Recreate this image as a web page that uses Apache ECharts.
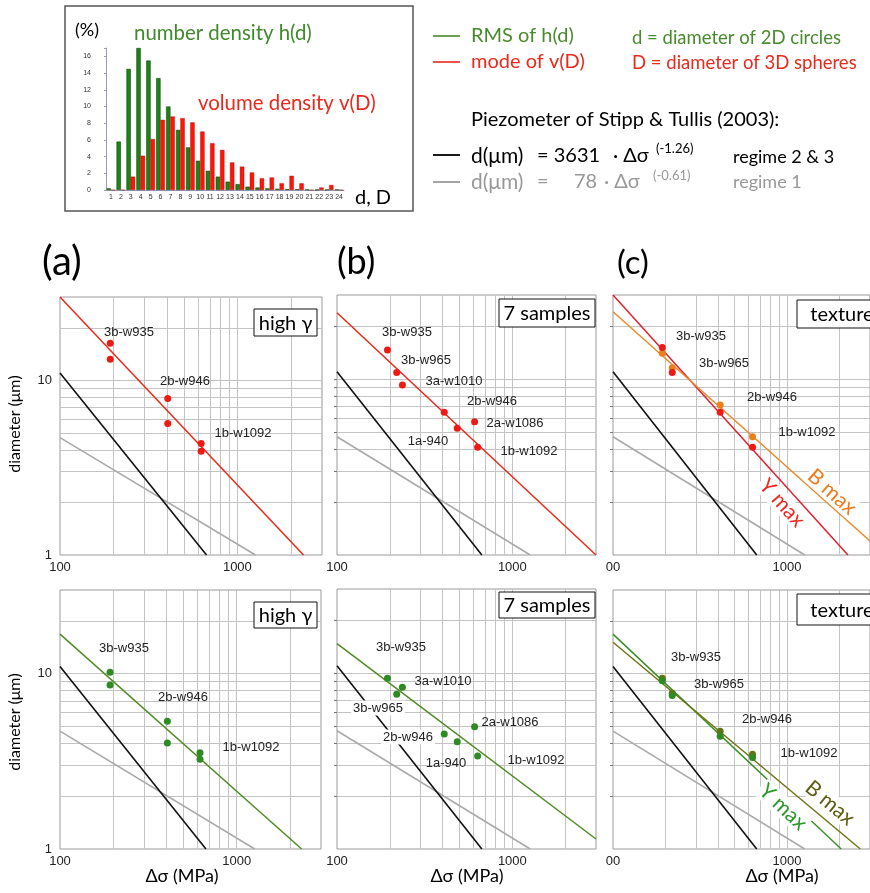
<!DOCTYPE html>
<html><head><meta charset="utf-8">
<script src="https://cdn.jsdelivr.net/npm/echarts@6/dist/echarts.min.js"></script>
<style>html,body{margin:0;padding:0;background:#fff}#c{width:870px;height:893px}</style>
</head><body><div id="c"></div>
<script>
// ---------- inset histogram ----------
const histCategories = ['1','2','3','4','5','6','7','8','9','10','11','12','13','14','15','16','17','18','19','20','21','22','23','24'];
const numberDensity = [0.2,5.8,14.5,17.0,15.5,13.4,10.0,7.2,5.1,3.5,2.3,1.6,1.0,0.7,0.4,0.3,0.2,0.15,0.1,0.1,0.05,0.03,0.03,0.05];
const volumeDensity = [0,0,1.6,4.1,6.1,8.4,8.8,8.6,8.1,7.0,5.6,4.8,3.3,2.8,2.1,1.4,1.5,0.8,1.7,0.8,0,0.3,0.6,0];
const histYTicks = [0,2,4,6,8,10,12,14,16];

// ---------- piezometer lines (Stipp & Tullis 2003) ----------
const stippRegime23 = [[100, 11.0], [670, 1]];
const stippRegime1 = [[100, 4.7], [1265, 1]];

// ---------- grid values ----------
const gridX = [200,300,400,500,600,700,800,900,1000,2000];
const gridY = [2,3,4,5,6,7,8,9,10,20];

// ---------- panel (a) ----------
const aTopFit = [[100, 30], [2360, 1]];
const aTopPoints = [[192,16.3],[192,13.2],[405,7.86],[405,5.66],[625,4.35],[625,3.93]];
const aBotFit = [[100, 16.8], [2330, 1]];
const aBotPoints = [[192,10.2],[192,8.63],[405,5.36],[405,4.02],[620,3.54],[620,3.25]];
// ---------- panel (b) ----------
const bTopFit = [[100, 23.8], [3000, 1]];
const bTopPoints = [[194,14.6],[219,10.9],[236,9.25],[409,6.47],[485,5.25],[609,5.72],[634,4.09]];
const bBotFit = [[100, 14.7], [3000, 1.14]];
const bBotPoints = [[194,9.33],[236,8.3],[219,7.57],[609,4.95],[409,4.5],[485,4.07],[634,3.38]];
// ---------- panel (c) ----------
const cTopYmaxFit = [[100, 30], [2240, 1]];
const cTopBmaxFit = [[100, 24.1], [3000, 1.2]];
const cTopYmaxPoints = [[192,15.1],[219,10.9],[413,6.47],[634,4.09]];
const cTopBmaxPoints = [[192,14.0],[219,11.6],[413,7.11],[634,4.7]];
const cBotYmaxFit = [[100, 16.8], [2050, 1]];
const cBotBmaxFit = [[100, 15.1], [2640, 1]];
const cBotYmaxPoints = [[192,9.1],[219,7.5],[413,4.4],[634,3.32]];
const cBotBmaxPoints = [[192,9.4],[219,7.73],[413,4.7],[634,3.47]];

// ---------- colours ----------
const RED = '#e8291c', GREEN = '#4f8a23', ORANGE = '#ec8a2a', CRED = '#e02030';
const YGREEN = '#3b8f2a', OLIVE = '#6f7514';
const TXTGREEN = '#4a8a2e';
const GILL = 'Lato, "Open Sans", "DejaVu Sans", sans-serif';
const HELV = '"Liberation Sans", Arial, sans-serif';

const chart = echarts.init(document.getElementById('c'), null, {renderer: 'canvas'});

const panelGrids = [
  {left: 60, top: 297, width: 262, height: 258},
  {left: 337, top: 295, width: 259, height: 260},
  {left: 613, top: 295, width: 259, height: 260},
  {left: 60, top: 590, width: 261, height: 259},
  {left: 337, top: 589, width: 259, height: 260},
  {left: 613, top: 590, width: 259, height: 259}
];

function isDecade(v) {
  const l = Math.log10(v);
  return Math.abs(l - Math.round(l)) < 1e-6;
}

const grids = [{left: 106, top: 48, width: 238, height: 142}];
panelGrids.forEach(g => grids.push(Object.assign({show: true, borderColor: '#9a9a9a', borderWidth: 1, backgroundColor: 'transparent', z: 0}, g)));

const xAxes = [{
  type: 'category', gridIndex: 0, data: histCategories,
  axisLine: {lineStyle: {color: '#9a9ab8'}},
  axisTick: {lineStyle: {color: '#9a9ab8'}, length: 2},
  axisLabel: {interval: 0, fontSize: 7, color: '#333', margin: 4, fontFamily: HELV}
}];
const yAxes = [{
  type: 'value', gridIndex: 0, min: 0, max: 17, interval: 2,
  splitLine: {show: false},
  axisLine: {show: true, lineStyle: {color: '#9a9ab8'}},
  axisTick: {show: true, length: 2, lineStyle: {color: '#9a9ab8'}},
  axisLabel: {fontSize: 7, color: '#333', margin: 15, fontFamily: HELV,
    formatter: v => histYTicks.indexOf(v) >= 0 ? String(v) : ''}
}];
for (let i = 0; i < 6; i++) {
  const col = i % 3;
  xAxes.push({
    type: 'log', logBase: 10, min: 100, max: 3000, gridIndex: i + 1,
    axisLine: {show: false}, axisTick: {show: false}, splitLine: {show: false},
    axisLabel: {fontSize: 13, color: '#222', margin: 6, fontFamily: HELV, showMaxLabel: false,
      formatter: v => isDecade(v) ? (col === 2 && Math.round(v) === 100 ? '00' : String(Math.round(v))) : ''}
  });
  yAxes.push({
    type: 'log', logBase: 10, min: 1, max: 30, gridIndex: i + 1,
    axisLine: {show: false},
    axisTick: col === 0 ? {show: false} : {show: true, length: 3, customValues: gridY, lineStyle: {color: '#777', width: 1}},
    splitLine: {show: false},
    axisLabel: {show: col === 0, fontSize: 13, color: '#222', margin: 8, fontFamily: HELV,
      formatter: v => isDecade(v) ? String(Math.round(v)) : ''}
  });
}

const series = [
  {type: 'bar', xAxisIndex: 0, yAxisIndex: 0, data: numberDensity, barGap: '0%', barCategoryGap: '12%',
   itemStyle: {color: '#1f8216', borderColor: '#124a0c', borderWidth: 0.6}, silent: true},
  {type: 'bar', xAxisIndex: 0, yAxisIndex: 0, data: volumeDensity,
   itemStyle: {color: '#ff1408', borderColor: '#a01010', borderWidth: 0.4}, silent: true}
];

function gridSeries(i) {
  return {type: 'line', xAxisIndex: i, yAxisIndex: i, data: [[100, 1]], showSymbol: false, silent: true, z: 1,
    lineStyle: {width: 0},
    markLine: {silent: true, z: 1, symbol: ['none', 'none'], animation: false, label: {show: false},
      emphasis: {disabled: true},
      lineStyle: {color: '#c4c4c4', width: 1, type: 'solid'},
      data: gridX.map(v => ({xAxis: v})).concat(gridY.map(v => ({yAxis: v})))}};
}
function lineSeries(i, data, color, w) {
  return {type: 'line', xAxisIndex: i, yAxisIndex: i, data: data, showSymbol: false, silent: true, z: 6,
    lineStyle: {color: color, width: w || 1.5}, clip: true, animation: false};
}
function pointSeries(i, data, color) {
  return {type: 'scatter', xAxisIndex: i, yAxisIndex: i, data: data, symbolSize: 7, silent: true, z: 8,
    itemStyle: {color: color, opacity: 1}, animation: false};
}

const panelFits = [
  [[aTopFit, RED]],
  [[bTopFit, RED]],
  [[cTopYmaxFit, CRED], [cTopBmaxFit, ORANGE]],
  [[aBotFit, GREEN]],
  [[bBotFit, GREEN]],
  [[cBotYmaxFit, YGREEN], [cBotBmaxFit, OLIVE]]
];
const panelPoints = [
  [[aTopPoints, '#f01a14']],
  [[bTopPoints, '#f01a14']],
  [[cTopBmaxPoints, '#e8801c'], [cTopYmaxPoints, '#f01a14']],
  [[aBotPoints, '#2e8a22']],
  [[bBotPoints, '#2e8a22']],
  [[cBotBmaxPoints, '#5f7418'], [cBotYmaxPoints, '#2f8a22']]
];
for (let i = 1; i <= 6; i++) {
  series.push(gridSeries(i));
  series.push(lineSeries(i, stippRegime1, '#aaaaaa', 1.6));
  series.push(lineSeries(i, stippRegime23, '#111111', 1.6));
  panelFits[i - 1].forEach(f => series.push(lineSeries(i, f[0], f[1], 1.5)));
  panelPoints[i - 1].forEach(p => series.push(pointSeries(i, p[0], p[1])));
}

// ---------- annotation texts ----------
const g = [];
function txt(text, x, y, opt) {
  opt = opt || {};
  g.push({type: 'text', x: x, y: y, rotation: opt.rot || 0, z: opt.z || 100,
    style: Object.assign({text: text, fill: opt.color || '#000', font: (opt.weight || 'normal') + ' ' + (opt.size || 18) + 'px ' + (opt.family || GILL),
      align: opt.align || 'left', verticalAlign: 'middle'}, opt.extra || {})});
}
function hline(x1, x2, y, color, w) {
  g.push({type: 'line', shape: {x1: x1, y1: y, x2: x2, y2: y}, style: {stroke: color, lineWidth: w || 1.6}, z: 100});
}
function box(text, x, y, w, h) {
  g.push({type: 'rect', shape: {x: x, y: y, width: w, height: h}, style: {fill: '#fff', stroke: '#111', lineWidth: 1}, z: 90});
  txt(text, x + w / 2, y + h / 2 + 1, {size: 20, align: 'center', z: 91});
}

// inset frame and texts
g.push({type: 'rect', shape: {x: 65, y: 6, width: 348, height: 205}, style: {fill: 'none', stroke: '#555', lineWidth: 1.5}, z: 80});
txt('(%)', 75, 30, {size: 18});
txt('number density h(d)', 134, 33, {size: 20.4, color: '#3f8a2a'});
txt('volume density v(D)', 198, 103, {size: 20.4, color: RED});
txt('d, D', 355, 198, {size: 20});

// legend
hline(433, 460, 36, TXTGREEN); txt('RMS of h(d)', 471, 36, {size: 20, color: TXTGREEN});
hline(433, 460, 62, RED); txt('mode of v(D)', 471, 62, {size: 20, color: RED});
txt('d = diameter of 2D circles', 632, 38, {size: 18.5, color: TXTGREEN});
txt('D = diameter of 3D spheres', 632, 63, {size: 18.5, color: RED});
txt('Piezometer of Stipp & Tullis (2003):', 471, 120, {size: 20});
hline(433, 460, 155, '#000', 1.8);
txt('d(μm)', 471, 156, {size: 21}); txt('= 3631', 537, 156, {size: 20}); txt('· Δσ', 613, 156, {size: 20});
txt('(-1.26)', 656, 149, {size: 13}); txt('regime 2 & 3', 733, 157, {size: 18});
hline(433, 460, 182, '#999', 1.8);
txt('d(μm)', 471, 182, {size: 21, color: '#999'}); txt('=', 537, 182, {size: 20, color: '#999'});
txt('78', 574, 182, {size: 20, color: '#999'}); txt('· Δσ', 604, 182, {size: 20, color: '#999'});
txt('(-0.61)', 653, 176, {size: 13, color: '#999'}); txt('regime 1', 733, 182, {size: 18, color: '#999'});

// panel letters
txt('(a)', 42, 262, {size: 40});
txt('(b)', 337, 262, {size: 36});
txt('(c)', 617, 263, {size: 33});

// boxes
box('high γ', 254, 309, 63, 27);
box('7 samples', 499, 299, 96, 28);
box('texture', 797, 300, 90, 28);
box('high γ', 254, 602, 63, 26);
box('7 samples', 499, 592, 96, 26);
box('texture', 797, 594, 90, 31);

// axis names
txt('diameter (μm)', 15, 424, {size: 16, align: 'center', rot: Math.PI / 2});
txt('diameter (μm)', 15, 722, {size: 16, align: 'center', rot: Math.PI / 2});
txt('Δσ (MPa)', 182, 876, {size: 18, align: 'center'});
txt('Δσ (MPa)', 467, 876, {size: 18, align: 'center'});
txt('Δσ (MPa)', 782, 876, {size: 18, align: 'center'});

// sample labels
const sampleLabels = [
  ['3b-w935', 129, 332], ['2b-w946', 185, 381], ['1b-w1092', 243, 433],
  ['3b-w935', 124, 648], ['2b-w946', 183, 697], ['1b-w1092', 251, 747],
  ['3b-w935', 407, 332], ['3b-w965', 426, 360], ['3a-w1010', 454, 381], ['2b-w946', 492, 401],
  ['2a-w1086', 515, 423], ['1a-940', 428, 441], ['1b-w1092', 529, 451],
  ['3b-w935', 401, 647], ['3a-w1010', 443, 681], ['2a-w1086', 510, 722], ['1a-940', 446, 763], ['1b-w1092', 536, 760],
  ['3b-w935', 701, 336], ['3b-w965', 724, 363], ['2b-w946', 772, 397], ['1b-w1092', 807, 432],
  ['3b-w935', 696, 657], ['3b-w965', 719, 684], ['2b-w946', 767, 719], ['1b-w1092', 809, 753]
];
sampleLabels.forEach(s => txt(s[0], s[1], s[2], {size: 13, family: HELV, color: '#222', align: 'center'}));
// labels with white background covering the piezometer line
[['3b-w965', 378, 708], ['2b-w946', 408, 737]].forEach(s => txt(s[0], s[1], s[2],
  {size: 13, family: HELV, color: '#222', align: 'center', extra: {backgroundColor: '#fff', padding: [1, 2]}}));

// Y max / B max
const rad = d => -d * Math.PI / 180;
txt('B max', 832, 492, {size: 21, color: '#f07a1a', align: 'center', rot: rad(41.6), extra: {backgroundColor: '#fff', padding: [0, 2]}});
txt('Y max', 782, 503, {size: 21, color: '#ee2a20', align: 'center', rot: rad(47.8), extra: {backgroundColor: '#fff', padding: [0, 2]}});
txt('B max', 830, 803, {size: 21, color: '#5e5e12', align: 'center', rot: rad(39.8), extra: {backgroundColor: '#fff', padding: [0, 2]}});
txt('Y max', 783, 807, {size: 21, color: '#2a9a2a', align: 'center', rot: rad(43.2), extra: {backgroundColor: '#fff', padding: [0, 2]}});

chart.setOption({
  animation: false,
  backgroundColor: '#fff',
  grid: grids,
  xAxis: xAxes,
  yAxis: yAxes,
  series: series,
  graphic: g
});
</script></body></html>
